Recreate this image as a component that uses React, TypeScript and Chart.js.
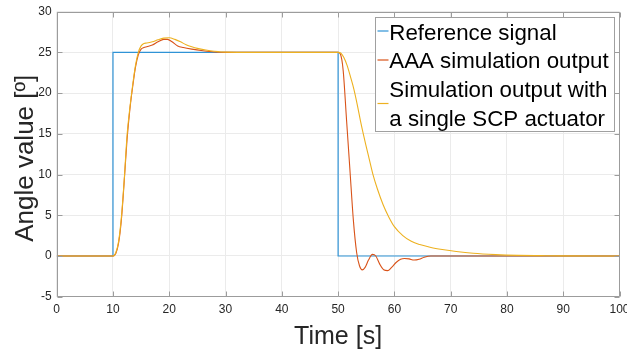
import React, { useEffect, useRef } from "react";
import { Chart, registerables } from "chart.js";

Chart.register(...registerables);

const X_TICKS = [0, 10, 20, 30, 40, 50, 60, 70, 80, 90, 100];
const Y_TICKS = [-5, 0, 5, 10, 15, 20, 25, 30];

const LEGEND_LABELS = [
  ["Reference signal"],
  ["AAA simulation output"],
  ["Simulation output with", "a single SCP actuator"],
];

const X_TITLE = "Time [s]";
const Y_TITLE = "Angle value [º]";

const REF_T = [0, 10, 10, 50, 50, 100];
const REF_V = [0, 0, 25, 25, 0, 0];

const AAA_T = [0, 10, 10.5, 11, 11.5, 12, 12.5, 13, 13.5, 14, 14.5, 15, 15.5, 16, 17, 18, 19, 19.7, 20.5, 21.5, 22.5, 24, 26, 28, 30, 35, 40, 45, 50, 50.4, 50.9, 51.5, 52.1, 52.7, 53.3, 53.8, 54.3, 54.8, 55.4, 56.1, 56.7, 57.4, 58.1, 58.8, 59.5, 60.3, 61.1, 61.8, 62.6, 63.5, 64.4, 65.3, 66.5, 68, 70, 80, 100];
const AAA_V = [0, 0, 0.3, 1.6, 4.5, 9.2, 14.3, 18, 20.8, 23.2, 24.7, 25.4, 25.6, 25.7, 25.9, 26.3, 26.6, 26.6, 26.3, 25.8, 25.6, 25.4, 25.2, 25.05, 25, 25, 25, 25, 25, 24.8, 22.8, 16.7, 10.6, 4.5, 0.4, -1.2, -1.7, -1.4, -0.5, 0.2, 0.0, -1.0, -1.7, -1.8, -1.4, -0.8, -0.4, -0.3, -0.35, -0.5, -0.4, -0.15, 0, 0, 0, 0, 0];

const SCP_T = [0, 10, 10.5, 11, 11.5, 12, 12.5, 13, 13.5, 14, 14.5, 15, 15.5, 16, 17, 18, 19, 20, 21, 22, 23, 24, 25, 26.5, 28, 30, 35, 40, 45, 50, 50.5, 51, 51.6, 52.2, 52.8, 53.4, 54, 54.8, 55.5, 56.2, 57, 58, 59, 60, 61.5, 63, 64.5, 66.5, 68.5, 71, 74, 78, 82, 86, 90, 100];
const SCP_V = [0, 0, 0.4, 1.8, 4.8, 9.4, 14.8, 18.2, 21, 23.4, 25, 25.8, 26.1, 26.15, 26.3, 26.55, 26.75, 26.8, 26.6, 26.3, 25.95, 25.7, 25.5, 25.3, 25.15, 25.03, 25, 25, 25, 25, 24.9, 24.4, 23.4, 22.0, 20.5, 18.6, 16.5, 14.0, 12.0, 10.0, 8.2, 6.3, 4.8, 3.6, 2.5, 1.8, 1.4, 1.05, 0.8, 0.55, 0.33, 0.17, 0.08, 0.04, 0.01, 0];

const COLORS = ["#2f93d6", "#d95319", "#edb120"];

const toPts = (t: number[], v: number[]) => t.map((x, i) => ({ x, y: v[i] }));

const AXIS_COLOR = "#9c9c9c";
const TEXT_COLOR = "#262626";
const FONT = "'Liberation Sans', Arial, Helvetica, sans-serif";

const decorPlugin = {
  id: "decor",
  afterDatasetsDraw(chart: any) {
    const { ctx, chartArea: a, scales } = chart;
    const xs = scales.x;
    const ys = scales.y;
    ctx.save();
    ctx.strokeStyle = AXIS_COLOR;
    ctx.lineWidth = 1;
    const L = Math.round(a.left) + 0.5;
    const R = Math.round(a.right) - 0.5;
    const T = Math.round(a.top) + 0.5;
    const B = Math.round(a.bottom) - 0.5;
    ctx.beginPath();
    ctx.rect(L, T, R - L, B - T);
    ctx.stroke();
    ctx.beginPath();
    X_TICKS.forEach((t) => {
      const px = Math.round(xs.getPixelForValue(t)) + 0.5;
      ctx.moveTo(px, B);
      ctx.lineTo(px, B - 5);
      ctx.moveTo(px, T);
      ctx.lineTo(px, T + 5);
    });
    Y_TICKS.forEach((v) => {
      const py = Math.round(ys.getPixelForValue(v)) + 0.5;
      ctx.moveTo(L, py);
      ctx.lineTo(L + 5, py);
      ctx.moveTo(R, py);
      ctx.lineTo(R - 5, py);
    });
    ctx.stroke();

    // legend
    const lx = 375.5, ly = 17.5, lw = 239, lh = 114;
    ctx.fillStyle = "#ffffff";
    ctx.fillRect(lx, ly, lw, lh);
    ctx.strokeStyle = "#a0a0a0";
    ctx.strokeRect(lx, ly, lw, lh);
    ctx.font = `22.3px ${FONT}`;
    ctx.fillStyle = "#000000";
    ctx.textAlign = "left";
    ctx.textBaseline = "alphabetic";
    const baselines = [39.8, 68.4, 97, 125.6];
    const swatchY = [31, 60, 103.5];
    let line = 0;
    LEGEND_LABELS.forEach((lines, i) => {
      ctx.strokeStyle = COLORS[i];
      ctx.lineWidth = 1.2;
      ctx.beginPath();
      ctx.moveTo(377.5, swatchY[i]);
      ctx.lineTo(388.5, swatchY[i]);
      ctx.stroke();
      lines.forEach((txt) => {
        ctx.fillText(txt, 389.3, baselines[line]);
        line++;
      });
    });

    // axis titles
    ctx.fillStyle = TEXT_COLOR;
    ctx.font = `25px ${FONT}`;
    ctx.textAlign = "center";
    ctx.fillText(X_TITLE, (a.left + a.right) / 2, 343.5);
    ctx.save();
    ctx.translate(33.3, 158.3);
    ctx.rotate(-Math.PI / 2);
    ctx.font = `26px ${FONT}`;
    ctx.fillText(Y_TITLE, 0, 0);
    ctx.restore();
    ctx.restore();
  },
};

export default function App() {
  const ref = useRef<HTMLCanvasElement | null>(null);
  useEffect(() => {
    document.body.style.margin = "0";
    const canvas = ref.current!;
    const chart = new Chart(canvas, {
      type: "line",
      data: {
        datasets: [
          {
            label: "Reference signal",
            data: toPts(REF_T, REF_V),
            borderColor: COLORS[0],
            borderWidth: 1.2,
            pointRadius: 0,
            tension: 0,
            order: 3,
          },
          {
            label: "AAA simulation output",
            data: toPts(AAA_T, AAA_V),
            borderColor: COLORS[1],
            borderWidth: 1.1,
            pointRadius: 0,
            cubicInterpolationMode: "monotone",
            order: 2,
          },
          {
            label: "Simulation output with a single SCP actuator",
            data: toPts(SCP_T, SCP_V),
            borderColor: COLORS[2],
            borderWidth: 1.1,
            pointRadius: 0,
            cubicInterpolationMode: "monotone",
            order: 1,
          },
        ],
      },
      options: {
        animation: false,
        responsive: false,
        events: [],
        layout: { padding: { top: 11.7, right: 7.5, left: 0, bottom: 0 } },
        plugins: {
          legend: { display: false },
          tooltip: { enabled: false },
          title: { display: false },
        },
        scales: {
          x: {
            type: "linear",
            min: 0,
            max: 100,
            afterBuildTicks: (s: any) => {
              s.ticks = X_TICKS.map((v) => ({ value: v }));
            },
            ticks: {
              color: TEXT_COLOR,
              font: { family: FONT, size: 12 },
              padding: 6,
              maxRotation: 0,
              autoSkip: false,
            },
            grid: { color: "#ebebeb", drawTicks: false, lineWidth: 1 },
            border: { display: false },
            afterFit: (s: any) => {
              s.height = 54.3;
              s.paddingLeft = 0;
              s.paddingRight = 0;
            },
          },
          y: {
            type: "linear",
            min: -5,
            max: 30,
            afterBuildTicks: (s: any) => {
              s.ticks = Y_TICKS.map((v) => ({ value: v }));
            },
            ticks: {
              color: TEXT_COLOR,
              font: { family: FONT, size: 12 },
              padding: 5,
              autoSkip: false,
            },
            grid: { color: "#ebebeb", drawTicks: false, lineWidth: 1 },
            border: { display: false },
            afterFit: (s: any) => {
              s.width = 56.7;
              s.paddingTop = 0;
              s.paddingBottom = 0;
            },
          },
        },
      },
      plugins: [decorPlugin],
    });
    return () => chart.destroy();
  }, []);
  return (
    <canvas
      ref={ref}
      width={627}
      height={351}
      style={{ display: "block", width: 627, height: 351 }}
    />
  );
}
